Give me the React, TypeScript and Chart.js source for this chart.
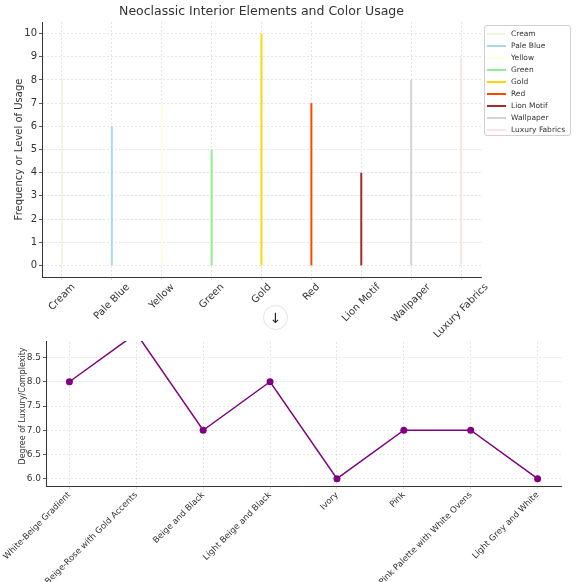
import React, { useEffect, useRef } from "react";
import { Chart, registerables } from "chart.js";

Chart.register(...registerables);

const FONT = "'DejaVu Sans', 'Liberation Sans', sans-serif";

// Top chart data
const elements = ["Cream", "Pale Blue", "Yellow", "Green", "Gold", "Red", "Lion Motif", "Wallpaper", "Luxury Fabrics"];
const usage = [8, 6, 7, 5, 10, 7, 4, 8, 9];
const elementColors = ["#F5F5DC", "#ADD8E6", "#FFFFE0", "#90EE90", "#FFD700", "#FF4500", "#A52A2A", "#D3D3D3", "#FFE4E1"];
const usageTicks = [0, 1, 2, 3, 4, 5, 6, 7, 8, 9, 10];

// Bottom chart data
const palettes = [
  "White-Beige Gradient",
  "Beige-Rose with Gold Accents",
  "Beige and Black",
  "Light Beige and Black",
  "Ivory",
  "Pink",
  "Pink Palette with White Ovens",
  "Light Grey and White",
];
const luxury = [8, 9, 7, 8, 6, 7, 7, 6];
const luxuryTicks = [6.0, 6.5, 7.0, 7.5, 8.0, 8.5];

const GRID = "rgba(0,0,0,0.13)";
const AXIS = "#333";
const TEXT = "#333";

function StemChart() {
  const ref = useRef<HTMLCanvasElement>(null);
  useEffect(() => {
    if (!ref.current) return;
    const rotLabels = {
      id: "rotLabels",
      afterDraw(chart: any) {
        const { ctx } = chart;
        const xs = chart.scales.x;
        ctx.save();
        ctx.font = `10px ${FONT}`;
        ctx.fillStyle = TEXT;
        elements.forEach((t, i) => {
          const x = xs.getPixelForValue(i);
          const w = ctx.measureText(t).width;
          const half = ((w + 10) * Math.SQRT1_2) / 2;
          const cy = xs.top + 5 + half;
          ctx.save();
          ctx.translate(x, cy);
          ctx.rotate(-Math.PI / 4);
          ctx.textAlign = "center";
          ctx.textBaseline = "middle";
          ctx.fillText(t, 0, 0);
          ctx.restore();
        });
        ctx.restore();
      },
    };
    const chart = new Chart(ref.current, {
      type: "line",
      data: {
        datasets: elements.map((name, i) => ({
          label: name,
          data: [
            { x: i, y: 0 },
            { x: i, y: usage[i] },
          ],
          borderColor: elementColors[i],
          backgroundColor: elementColors[i],
          borderWidth: 2,
          pointRadius: 0,
        })),
      },
      options: {
        responsive: false,
        animation: false,
        layout: { padding: { left: 0, right: 95, top: 0, bottom: 0 } },
        plugins: {
          legend: { display: false },
          tooltip: { enabled: false },
          title: {
            display: true,
            fullSize: false,
            text: "Neoclassic Interior Elements and Color Usage",
            color: TEXT,
            font: { family: FONT, size: 12.5, weight: "normal" },
            padding: { top: 4, bottom: 3 },
          },
        },
        scales: {
          x: {
            type: "linear",
            min: -0.4,
            max: 8.4,
            afterBuildTicks: (s: any) => {
              s.ticks = elements.map((_, i) => ({ value: i }));
            },
            afterFit: (s: any) => {
              s.height = 64;
            },
            ticks: { display: false },
            grid: { color: GRID, lineWidth: 0.8, tickLength: 3, tickColor: "rgba(0,0,0,0.18)", tickWidth: 0.8 },
            border: { color: AXIS, width: 1, dash: [2, 2] },
          },
          y: {
            type: "linear",
            min: -0.5,
            max: 10.5,
            afterBuildTicks: (s: any) => {
              s.ticks = usageTicks.map((v) => ({ value: v }));
            },
            afterFit: (s: any) => {
              s.width = 42;
            },
            ticks: { color: TEXT, font: { family: FONT, size: 10 }, padding: 2 },
            grid: { color: GRID, lineWidth: 0.8, tickLength: 3, tickColor: AXIS, tickWidth: 0.8 },
            border: { color: AXIS, width: 1, dash: [2, 2] },
            title: {
              display: true,
              text: "Frequency or Level of Usage",
              color: TEXT,
              font: { family: FONT, size: 10 },
              padding: { top: 13, bottom: 0 },
            },
          },
        },
      },
      plugins: [rotLabels],
    } as any);
    return () => chart.destroy();
  }, []);
  return <canvas ref={ref} width={576} height={341} style={{ display: "block", background: "#fff" }} />;
}

function LineChartBottom() {
  const ref = useRef<HTMLCanvasElement>(null);
  useEffect(() => {
    if (!ref.current) return;
    const chart = new Chart(ref.current, {
      type: "line",
      data: {
        datasets: [
          {
            label: "Luxury/Complexity",
            data: luxury.map((v, i) => ({ x: i, y: v })),
            borderColor: "#800080",
            backgroundColor: "#800080",
            borderWidth: 1.5,
            pointRadius: 3.5,
            pointBorderWidth: 0,
            pointBackgroundColor: "#800080",
          },
        ],
      },
      options: {
        responsive: false,
        animation: false,
        layout: { padding: { left: 0, right: 15, top: 16, bottom: 0 } },
        plugins: { legend: { display: false }, tooltip: { enabled: false }, title: { display: false } },
        scales: {
          x: {
            type: "linear",
            min: -0.35,
            max: 7.35,
            afterBuildTicks: (s: any) => {
              s.ticks = palettes.map((_, i) => ({ value: i }));
            },
            afterFit: (s: any) => {
              s.height = 96;
            },
            ticks: {
              autoSkip: false,
              minRotation: 45,
              maxRotation: 45,
              color: TEXT,
              font: { family: FONT, size: 8.5 },
              padding: 1,
              callback: (v: any) => palettes[v] ?? "",
            },
            grid: { color: GRID, lineWidth: 0.8, tickLength: 3, tickColor: "rgba(0,0,0,0.18)", tickWidth: 0.8 },
            border: { color: AXIS, width: 1, dash: [2, 2] },
          },
          y: {
            type: "linear",
            min: 5.85,
            max: 9.15,
            afterBuildTicks: (s: any) => {
              s.ticks = luxuryTicks.map((v) => ({ value: v }));
            },
            afterFit: (s: any) => {
              s.width = 46;
            },
            ticks: {
              color: TEXT,
              font: { family: FONT, size: 9 },
              padding: 2,
              callback: (v: any) => Number(v).toFixed(1),
            },
            grid: { color: GRID, lineWidth: 0.8, tickLength: 3, tickColor: AXIS, tickWidth: 0.8 },
            border: { color: AXIS, width: 1, dash: [2, 2] },
            title: {
              display: true,
              text: "Degree of Luxury/Complexity",
              color: TEXT,
              font: { family: FONT, size: 8 },
              padding: { top: 18, bottom: 0 },
            },
          },
        },
      },
    } as any);
    return () => chart.destroy();
  }, []);
  return <canvas ref={ref} width={576} height={272} style={{ display: "block" }} />;
}

function Legend() {
  return (
    <div
      style={{
        position: "absolute",
        left: 484,
        top: 25,
        width: 87,
        height: 111,
        border: "1px solid #d0d0d0",
        borderRadius: 3,
        background: "rgba(255,255,255,0.85)",
        fontFamily: FONT,
        fontSize: 7.5,
        color: TEXT,
        boxSizing: "border-box",
        paddingTop: 2,
      }}
    >
      {elements.map((name, i) => (
        <div key={name} style={{ display: "flex", alignItems: "center", height: 12, lineHeight: "12px" }}>
          <span style={{ display: "inline-block", width: 19, height: 2, background: elementColors[i], marginLeft: 2, marginRight: 5 }} />
          <span style={{ whiteSpace: "nowrap" }}>{name}</span>
        </div>
      ))}
    </div>
  );
}

export default function App() {
  return (
    <div style={{ position: "fixed", left: 0, top: 0, width: 576, height: 582, overflow: "hidden", background: "#fff" }}>
      <div style={{ position: "absolute", left: 0, top: 310, zIndex: 0 }}>
        <LineChartBottom />
      </div>
      <div style={{ position: "absolute", left: 0, top: 0, zIndex: 1, width: 576, height: 341, background: "#fff" }}>
        <StemChart />
        <Legend />
      </div>
      <div
        style={{
          position: "absolute",
          left: 263,
          top: 305,
          width: 25,
          height: 25,
          borderRadius: "50%",
          border: "1px solid #e2e2e2",
          background: "#fff",
          boxSizing: "border-box",
          zIndex: 2,
          display: "flex",
          alignItems: "center",
          justifyContent: "center",
          fontFamily: FONT,
          fontSize: 14,
          color: "#222",
        }}
      >
        ↓
      </div>
    </div>
  );
}
